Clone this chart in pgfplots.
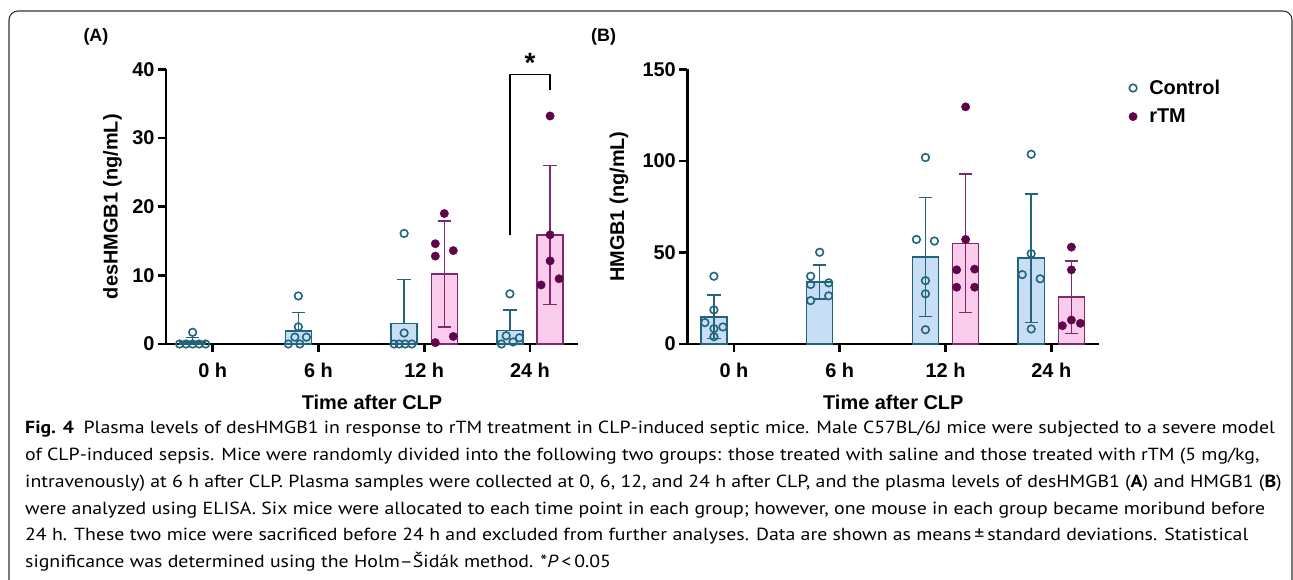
\documentclass[border=0pt]{standalone}
\usepackage{fontspec}
\setmainfont{Liberation Sans}
\newfontfamily\capfont{PT Sans}[FakeStretch=1.13]
\usepackage{pgfplots}
\pgfplotsset{compat=1.18}

\definecolor{ctrlfill}{HTML}{C8DEF5}
\definecolor{ctrledge}{HTML}{23647D}
\definecolor{rtmfill}{HTML}{F9CCEC}
\definecolor{rtmedge}{HTML}{80286E}
\definecolor{rtmmark}{HTML}{5F054B}

\newcommand{\chartfont}{\bfseries\fontsize{20}{20}\selectfont}
\newcommand{\capsize}{\capfont\fontsize{17.6}{17.6}\selectfont}

\pgfplotsset{
  hmgb/.style={
    scale only axis, width=412bp, height=274.7bp,
    xmin=-0.4415, xmax=3.454, ymin=0,
    axis x line*=bottom, axis y line*=left,
    axis line style={-, line width=2.6bp, black},
    xtick={0,1,2,3}, xticklabels={0 h,6 h,12 h,24 h},
    tick align=outside, major tick length=8bp,
    tick style={line width=2.6bp, black},
    ticklabel style={font=\chartfont},
    xticklabel style={yshift=-8bp},
    /pgf/number format/assume math mode=true,
    xlabel={Time after CLP},
    label style={font=\chartfont},
    xlabel style={at={(axis description cs:0.5,-0.211)}, anchor=center},
    clip=false,
  },
  ctrlbar/.style={ybar, bar width=0.246, bar shift=0pt, fill=ctrlfill, draw=ctrledge, line width=1.4bp, forget plot},
  rtmbar/.style={ybar, bar width=0.246, bar shift=0pt, fill=rtmfill, draw=rtmedge, line width=1.4bp, forget plot},
  ctrlerr/.style={draw=none, mark=none, forget plot, error bars/.cd, y dir=#1, y explicit,
    error bar style={line width=1.5bp, draw=ctrledge},
    error mark options={rotate=90, mark size=6.7bp, line width=1.5bp, draw=ctrledge}},
  rtmerr/.style={draw=none, mark=none, forget plot, error bars/.cd, y dir=both, y explicit,
    error bar style={line width=1.5bp, draw=rtmedge},
    error mark options={rotate=90, mark size=6.7bp, line width=1.5bp, draw=rtmedge}},
  ctrlpts/.style={only marks, mark=o, mark size=3.8bp, mark options={line width=1.6bp, draw=ctrledge}},
  rtmpts/.style={only marks, mark=*, mark size=4.2bp, mark options={draw=rtmmark, fill=rtmmark, line width=0.4bp}},
}

\begin{document}
\begin{tikzpicture}
\useasboundingbox (0,0) rectangle (1293bp,580bp);
\begin{scope}
\clip (0,0) rectangle (1293bp,580bp);
\draw[rounded corners=9bp, line width=1.1bp, black!80] (9bp,-30bp) -- (9bp,569bp) -- (1292bp,569bp) -- (1292bp,-30bp);
\end{scope}

% (A) desHMGB1
\begin{axis}[hmgb, at={(166bp,236bp)}, anchor=south west,
  ymax=40, ytick={0,10,20,30,40},
  ylabel={desHMGB1 (ng/mL)},
  ylabel style={at={(axis description cs:-0.130,0.5)}, anchor=center}]
\addplot[ctrlbar] coordinates {(-0.19,0.28) (0.81,1.92) (1.81,2.95) (2.81,1.94)};
\addplot[rtmbar] coordinates {(2.19,10.22) (3.19,15.86)};
\addplot[ctrlerr=plus] coordinates {(-0.19,0.28) +- (0,0.69) (0.81,1.92) +- (0,2.65) (1.81,2.95) +- (0,6.47) (2.81,1.94) +- (0,3.03)};
\addplot[rtmerr] coordinates {(2.19,10.22) +- (0,7.72) (3.19,15.86) +- (0,10.1)};
\addplot[ctrlpts] coordinates {
  (-0.19,1.7) (-0.313,0) (-0.252,0) (-0.19,0) (-0.128,0) (-0.067,0)
  (0.81,7.0) (0.81,2.5) (0.777,1.0) (0.886,1.0) (0.715,0) (0.824,0)
  (1.81,16.1) (1.81,1.6) (1.715,0) (1.763,0) (1.82,0) (1.883,0)
  (2.81,7.3) (2.775,1.2) (2.84,0.3) (2.90,0.9) (2.73,0)};
\addplot[rtmpts] coordinates {
  (2.19,19.0) (2.105,14.6) (2.105,12.8) (2.275,13.6) (2.275,1.1) (2.105,0.2)
  (3.19,33.2) (3.19,15.9) (3.19,12.1) (3.275,9.5) (3.105,8.6)};
\draw[line width=1.3bp] (axis cs:2.81,15.9) |- (axis cs:3.19,39.2) -- (axis cs:3.19,37.0);
\node[font=\bfseries\fontsize{28}{28}\selectfont] at (axis cs:3.0,41.0) {*};
\node[font=\bfseries\fontsize{18}{18}\selectfont] at (axis description cs:-0.170,1.117) {(A)};
\end{axis}

% (B) HMGB1
\begin{axis}[hmgb, at={(687.3bp,236bp)}, anchor=south west,
  ymax=150, ytick={0,50,100,150},
  ylabel={HMGB1 (ng/mL)},
  ylabel style={at={(axis description cs:-0.166,0.5)}, anchor=center},
  legend style={at={(axis description cs:1.064,0.976)}, anchor=north west,
    draw=none, fill=none, font=\chartfont, row sep=9bp},
  legend cell align=left]
\addplot[ctrlbar] coordinates {(-0.19,14.83) (0.81,33.83) (1.81,47.48) (2.81,46.92)};
\addplot[rtmbar] coordinates {(2.19,55.0) (3.19,25.56)};
\addplot[ctrlerr=both] coordinates {(-0.19,14.83) +- (0,11.9) (0.81,33.83) +- (0,9.34) (1.81,47.48) +- (0,32.4) (2.81,46.92) +- (0,35.1)};
\addplot[rtmerr] coordinates {(2.19,55.0) +- (0,37.7) (3.19,25.56) +- (0,19.8)};
\addplot[ctrlpts] coordinates {
  (-0.19,37.0) (-0.19,18.6) (-0.275,11.7) (-0.105,9.3) (-0.19,8.4) (-0.19,4.0)
  (0.81,50.1) (0.725,37.0) (0.725,32.5) (0.895,33.4) (0.725,23.7) (0.895,26.3)
  (1.81,101.8) (1.725,57.1) (1.895,56.2) (1.81,34.6) (1.81,27.4) (1.81,7.8)
  (2.81,103.6) (2.81,49.3) (2.725,37.9) (2.895,35.6) (2.81,8.2)};
\addlegendentry{\hspace{10bp}Control}
\addplot[rtmpts] coordinates {
  (2.19,129.5) (2.19,57.1) (2.105,40.5) (2.275,40.9) (2.105,31.0) (2.275,31.0)
  (3.19,52.9) (3.19,40.5) (3.19,13.1) (3.105,10.0) (3.275,11.3)};
\addlegendentry{\hspace{10bp}rTM}
\node[font=\bfseries\fontsize{18}{18}\selectfont] at (axis description cs:-0.203,1.117) {(B)};
\end{axis}

% caption
\begin{scope}[every node/.style={anchor=base west, inner sep=0pt, font=\capsize}]
\node at (25bp,146bp) {\textbf{Fig. 4}\hspace{0.55em}Plasma levels of desHMGB1 in response to rTM treatment in CLP-induced septic mice. Male C57BL/6J mice were subjected to a severe model};
\node at (25bp,119.3bp) {of CLP-induced sepsis. Mice were randomly divided into the following two groups: those treated with saline and those treated with rTM (5 mg/kg,};
\node at (25bp,92.6bp) {intravenously) at 6 h after CLP. Plasma samples were collected at 0, 6, 12, and 24 h after CLP, and the plasma levels of desHMGB1 (\textbf{A}) and HMGB1 (\textbf{B})};
\node at (25bp,65.9bp) {were analyzed using ELISA. Six mice were allocated to each time point in each group; however, one mouse in each group became moribund before};
\node at (25bp,39.2bp) {24 h. These two mice were sacrificed before 24 h and excluded from further analyses. Data are shown as means\,±\,standard deviations. Statistical};
\node at (25bp,12.5bp) {significance was determined using the Holm–Šidák method. *\textit{P}\,<\,0.05};
\end{scope}
\end{tikzpicture}
\end{document}
